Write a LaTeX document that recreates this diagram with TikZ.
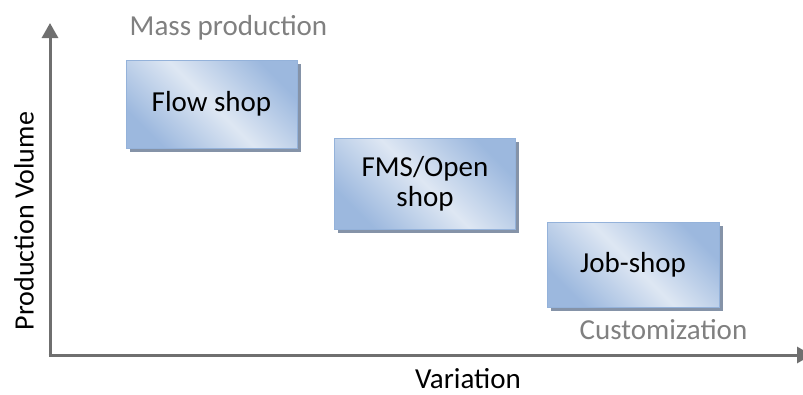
\documentclass[tikz,border=0pt]{standalone}
\usepackage{fontspec}
\setmainfont{Carlito}
\usetikzlibrary{arrows.meta,shadows}
\definecolor{axisgray}{HTML}{6F6F6F}
\definecolor{labelgray}{HTML}{808080}
\definecolor{boxdark}{HTML}{9CB8DE}
\definecolor{boxlight}{HTML}{DEE7F3}
\definecolor{boxline}{HTML}{94B2DA}
\definecolor{shadowcol}{HTML}{8593A8}
\tikzset{
  axisline/.style={draw=axisgray, line width=3pt, -{Triangle[width=16pt,length=15pt]}},
  shopbox/.style={rectangle, draw=boxline, line width=1pt,
    top color=boxdark, bottom color=boxdark, middle color=boxlight, shading angle=-45,
    drop shadow={fill=shadowcol, opacity=1, shadow xshift=3.5pt, shadow yshift=-3.5pt},
    font=\fontsize{29}{32}\selectfont, text=black, align=center, inner sep=0pt},
  graylabel/.style={font=\fontsize{29}{32}\selectfont, text=labelgray, inner sep=0pt, anchor=base},
  axislabel/.style={font=\fontsize{29}{32}\selectfont, text=black, inner sep=0pt}
}
\begin{document}
\begin{tikzpicture}[x=1pt,y=-1pt]
\useasboundingbox (0,0) rectangle (803,394);
\clip (0,0) rectangle (803,394);
\coordinate (o) at (50,355);
\coordinate (ytop) at (50,23);
\coordinate (xend) at (812,355);
\draw[axisline] (o) -- (ytop);
\draw[axisline] ([xshift=-1.5pt]o) -- (xend);
\node[shopbox, minimum width=171pt, minimum height=88pt] (flow) at (211.5,104) {Flow shop};
\node[shopbox, minimum width=181pt, minimum height=91pt] (fms) at (425,183.5) {FMS/Open\\[-2pt]shop};
\node[shopbox, minimum width=172pt, minimum height=85pt] (job) at (633,264.5) {Job-shop};
\node[graylabel] (mass) at (228.5,35) {Mass production};
\node[graylabel] (cust) at (663.5,339) {Customization};
\node[axislabel, anchor=base] (var) at (468,388) {Variation};
\node[axislabel, rotate=90, font=\fontsize{28}{30}\selectfont] (vol) at (24,221) {Production Volume};
\end{tikzpicture}
\end{document}
